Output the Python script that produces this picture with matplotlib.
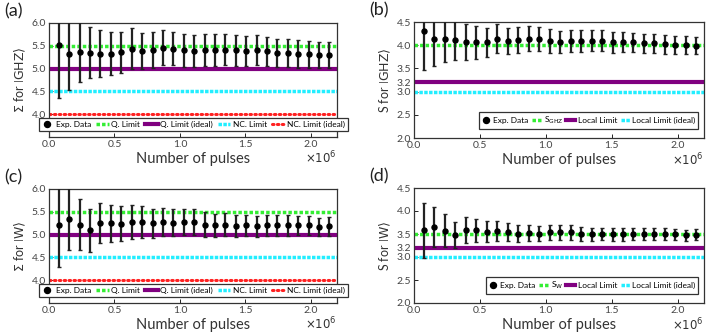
import matplotlib.pyplot as plt

plt.rcParams["font.family"] = ["Lato", "DejaVu Sans"]
plt.rcParams["mathtext.fontset"] = "dejavusans"

# number of pulses (x 10^6)
pulses = [0.075, 0.155, 0.234, 0.314, 0.393, 0.473, 0.552, 0.632, 0.711,
          0.791, 0.870, 0.950, 1.029, 1.109, 1.188, 1.268, 1.347, 1.427,
          1.506, 1.586, 1.665, 1.745, 1.824, 1.904, 1.983, 2.063, 2.142]

# (a) Sigma for |GHZ>
sigma_ghz = [5.52, 5.33, 5.36, 5.35, 5.33, 5.33, 5.36, 5.44, 5.39, 5.41, 5.46,
             5.44, 5.40, 5.39, 5.41, 5.41, 5.41, 5.40, 5.38, 5.40, 5.38, 5.35,
             5.34, 5.32, 5.31, 5.30, 5.30]
sigma_ghz_err = [1.16, 0.79, 0.66, 0.56, 0.51, 0.47, 0.45, 0.44, 0.40, 0.40,
                 0.38, 0.37, 0.36, 0.35, 0.35, 0.35, 0.34, 0.34, 0.33, 0.33,
                 0.32, 0.31, 0.30, 0.30, 0.29, 0.28, 0.28]

# (b) S for |GHZ>
s_ghz = [4.31, 4.14, 4.14, 4.11, 4.07, 4.06, 4.06, 4.14, 4.09, 4.11, 4.14,
         4.13, 4.09, 4.07, 4.09, 4.09, 4.10, 4.10, 4.06, 4.07, 4.06, 4.04,
         4.04, 4.02, 4.00, 4.00, 3.99]
s_ghz_err = [0.85, 0.59, 0.50, 0.42, 0.39, 0.35, 0.32, 0.31, 0.29, 0.28, 0.27,
             0.26, 0.25, 0.24, 0.24, 0.24, 0.23, 0.22, 0.22, 0.21, 0.21, 0.21,
             0.21, 0.21, 0.20, 0.19, 0.19]

# (c) Sigma for |W>
sigma_w = [5.20, 5.35, 5.22, 5.09, 5.25, 5.25, 5.24, 5.28, 5.27, 5.25, 5.28,
           5.26, 5.28, 5.28, 5.22, 5.20, 5.22, 5.19, 5.20, 5.18, 5.20, 5.20,
           5.20, 5.20, 5.20, 5.17, 5.18]
sigma_w_err = [0.91, 0.68, 0.55, 0.47, 0.44, 0.41, 0.38, 0.37, 0.35, 0.32,
               0.30, 0.30, 0.29, 0.28, 0.27, 0.26, 0.25, 0.24, 0.24, 0.23,
               0.23, 0.22, 0.22, 0.21, 0.21, 0.20, 0.20]

# (d) S for |W>
s_w = [3.58, 3.65, 3.57, 3.48, 3.58, 3.58, 3.55, 3.56, 3.54, 3.51, 3.52, 3.51,
       3.54, 3.54, 3.54, 3.50, 3.49, 3.50, 3.49, 3.49, 3.49, 3.50, 3.50, 3.50,
       3.49, 3.47, 3.48]
s_w_err = [0.60, 0.43, 0.36, 0.29, 0.28, 0.25, 0.23, 0.22, 0.20, 0.19, 0.18,
           0.17, 0.16, 0.16, 0.16, 0.15, 0.15, 0.14, 0.14, 0.14, 0.13, 0.13,
           0.13, 0.13, 0.12, 0.12, 0.12]

GREEN = "#33ee33"
PURPLE = "#800080"
CYAN = "#22eeff"
RED = "#ff2222"

W, H = 706, 333
fig = plt.figure(figsize=(W / 100, H / 100), dpi=100)


def add_ax(left, top, right, bottom):
    return fig.add_axes([left / W, 1 - bottom / H, (right - left) / W, (bottom - top) / H])


def style(ax, ylim, yticks, ylabel, label):
    ax.set_xlim(0, 2.2)
    ax.set_ylim(*ylim)
    ax.set_yticks(yticks)
    ax.set_yticklabels([f"{t:.1f}" for t in yticks])
    ax.set_xticks([0.0, 0.5, 1.0, 1.5, 2.0])
    ax.set_xticklabels(["0.0", "0.5", "1.0", "1.5", "2.0"])
    ax.tick_params(direction="in", length=3, width=0.6, labelsize=7.5,
                   labelcolor="#444444", pad=2)
    for s in ax.spines.values():
        s.set_linewidth(0.9)
        s.set_color("#333333")
    ax.set_ylabel(ylabel, fontsize=9, color="#333333", labelpad=3)
    ax.set_xlabel("Number of pulses", fontsize=10.5, color="#333333", labelpad=2)
    ax.text(1.0, -0.185, r"$\times10^{6}$", transform=ax.transAxes, ha="right",
            va="center", fontsize=8.5, color="#333333")
    fig.text(ax.get_position().x0 - 45 / W, ax.get_position().y1 + 4 / H, label,
             fontsize=13, color="#222222", va="bottom")


def data(ax, y, e):
    ax.errorbar(pulses, y, yerr=e, fmt="none", ecolor="#222222",
                elinewidth=1.6, capsize=1.5, capthick=1.0, zorder=5)
    ax.plot(pulses, y, "o", color="black", ms=3.6, zorder=6, label="Exp. Data")


def legend(ax, order, ncol, wide):
    h, l = ax.get_legend_handles_labels()
    if wide:
        kw = dict(loc="lower center", bbox_to_anchor=(0.5, 0.02),
                  handlelength=1.5, columnspacing=0.6, borderpad=0.3)
    else:
        kw = dict(loc="lower right", bbox_to_anchor=(0.995, 0.04),
                  handlelength=1.1, columnspacing=0.4, borderpad=0.35)
    leg = ax.legend([h[i] for i in order], [l[i] for i in order], ncol=ncol,
                    fontsize=6, handletextpad=0.3, fancybox=False,
                    framealpha=1, markerscale=1.2, **kw)
    leg.get_frame().set_edgecolor("#333333")
    leg.get_frame().set_linewidth(0.9)


def sigma_lines(ax):
    ax.axhline(5.5, color=GREEN, lw=2.5, ls=(0, (1, 0.6)), label="Q. Limit")
    ax.axhline(5.0, color=PURPLE, lw=3, label="Q. Limit (ideal)")
    ax.axhline(4.5, color=CYAN, lw=2.5, ls=(0, (1, 0.4)), label="NC. Limit")
    ax.axhline(4.0, color=RED, lw=2.2, ls=(0, (0.5, 1.1)),
               dash_capstyle="round", label="NC. Limit (ideal)")


# (a)
ax = add_ax(49, 23, 337, 137)
sigma_lines(ax)
data(ax, sigma_ghz, sigma_ghz_err)
style(ax, (3.5, 6.0), [4.0, 4.5, 5.0, 5.5, 6.0], r"$\Sigma$ for $\left|\mathrm{GHZ}\right\rangle$", "(a)")
legend(ax, [4, 0, 1, 2, 3], 5, True)

# (b)
ax = add_ax(414, 22, 704, 138)
ax.axhline(4.0, color=GREEN, lw=2.5, ls=(0, (1, 0.6)), label=r"S$_{\rm GHZ}$")
ax.axhline(3.2, color=PURPLE, lw=3, label="Local Limit")
ax.axhline(3.0, color=CYAN, lw=2.5, ls=(0, (1, 0.4)), label="Local Limit (ideal)")
data(ax, s_ghz, s_ghz_err)
style(ax, (2.0, 4.5), [2.0, 2.5, 3.0, 3.2, 3.5, 4.0, 4.5], r"S for $\left|\mathrm{GHZ}\right\rangle$", "(b)")
legend(ax, [3, 0, 1, 2], 4, False)

# (c)
ax = add_ax(49, 189, 337, 303)
sigma_lines(ax)
data(ax, sigma_w, sigma_w_err)
style(ax, (3.5, 6.0), [4.0, 4.5, 5.0, 5.5, 6.0], r"$\Sigma$ for $\left|\mathrm{W}\right\rangle$", "(c)")
legend(ax, [4, 0, 1, 2, 3], 5, True)

# (d)
ax = add_ax(414, 188, 704, 303)
ax.axhline(3.5, color=GREEN, lw=2.5, ls=(0, (1, 0.6)), label=r"S$_{\rm W}$")
ax.axhline(3.2, color=PURPLE, lw=3, label="Local Limit")
ax.axhline(3.0, color=CYAN, lw=2.5, ls=(0, (1, 0.4)), label="Local Limit (ideal)")
data(ax, s_w, s_w_err)
style(ax, (2.0, 4.5), [2.0, 2.5, 3.0, 3.2, 3.5, 4.0, 4.5], r"S for $\left|\mathrm{W}\right\rangle$", "(d)")
legend(ax, [3, 0, 1, 2], 4, False)

fig.savefig("out.png", dpi=100)
